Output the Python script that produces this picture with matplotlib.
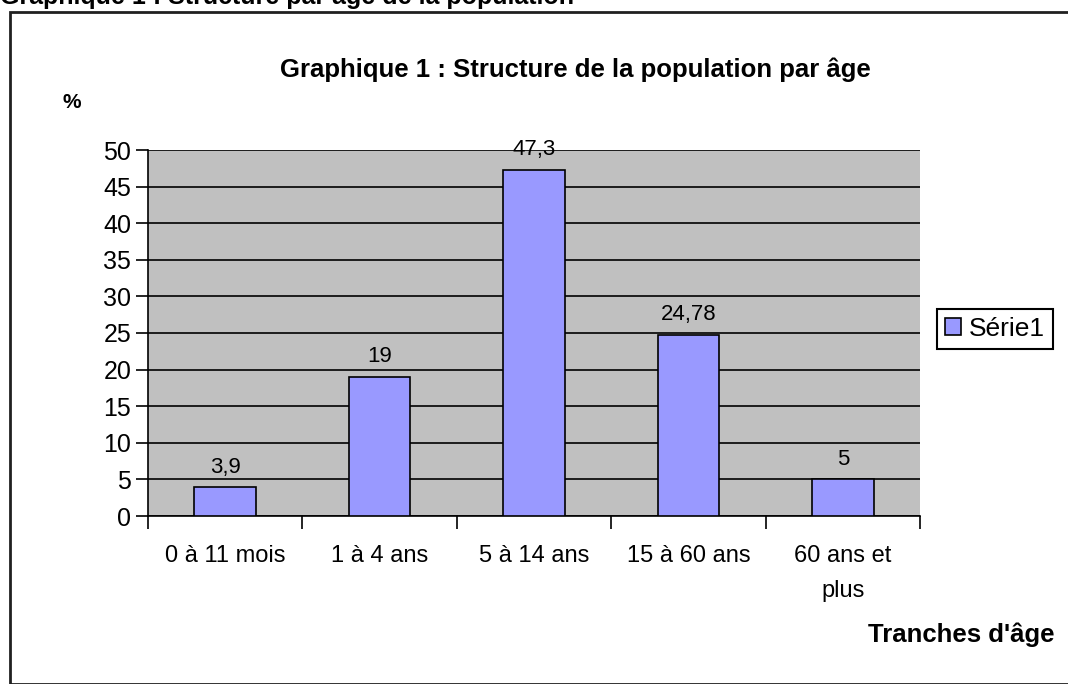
import numpy as np
import matplotlib.pyplot as plt
from matplotlib.patches import Rectangle

# tranches d'age et pourcentages
categories = ['0 à 11 mois', '1 à 4 ans', '5 à 14 ans', '15 à 60 ans', '60 ans et\nplus']
values = [3.9, 19, 47.3, 24.78, 5]
value_labels = ['3,9', '19', '47,3', '24,78', '5']

plt.rcParams['font.family'] = ['Liberation Sans', 'DejaVu Sans']

W, H = 1068, 684
fig = plt.figure(figsize=(W / 100, H / 100), dpi=100)

# cadre autour du graphique
fig.patches.append(Rectangle((10 / W, 0), 1.2, 1 - 12 / H, transform=fig.transFigure,
                             fill=False, edgecolor='#202020', linewidth=2, clip_on=False))
# titre du document, coupe en haut comme sur l'original
fig.text(0, 1 - 4 / H, 'Graphique 1 : Structure par âge de la population',
         fontsize=18, fontweight='bold', va='baseline', ha='left')

ax = fig.add_axes([148 / W, 1 - 516 / H, (920 - 148) / W, (516 - 150) / H])
ax.set_facecolor('#C0C0C0')

x = np.arange(len(categories))
bars = ax.bar(x, values, width=0.4, color='#9999FF', edgecolor='black', linewidth=1.2, zorder=3,
              label='Série1')
for b, lab in zip(bars, value_labels):
    ax.annotate(lab, (b.get_x() + b.get_width() / 2, b.get_height()), xytext=(0, 7),
                textcoords='offset points', ha='center', va='bottom', fontsize=16)

ax.set_xlim(-0.5, len(categories) - 0.5)
ax.set_ylim(0, 50)
ax.set_yticks(np.arange(0, 51, 5))
ax.yaxis.grid(True, color='black', linewidth=1.2, zorder=1)
ax.set_axisbelow(True)

ax.set_xticks(np.arange(-0.5, len(categories), 1))
ax.set_xticklabels([])
ax.set_xticks(x, minor=True)
ax.set_xticklabels(categories, minor=True, fontsize=17, linespacing=1.75, va='top')
ax.tick_params(axis='x', which='minor', length=0, pad=21)
ax.tick_params(axis='x', which='major', length=9, width=1.2, direction='out')
ax.tick_params(axis='y', length=9, width=1.2, labelsize=18, pad=3)

for s in ['top', 'right']:
    ax.spines[s].set_visible(False)
ax.spines['left'].set_linewidth(1.2)
ax.spines['bottom'].set_linewidth(1.2)

fig.text(575 / W, 1 - 70 / H, 'Graphique 1 : Structure de la population par âge',
         fontsize=18.5, fontweight='bold', ha='center', va='center')
fig.text(72 / W, 1 - 103 / H, '%', fontsize=15, fontweight='bold', ha='center', va='center')
fig.text(1055 / W, 1 - 635 / H, "Tranches d'âge", fontsize=18.5, fontweight='bold',
         ha='right', va='center')

leg = fig.legend(handles=[bars], labels=['Série1'], loc='center left',
                 bbox_to_anchor=(937 / W, 1 - 329 / H), fontsize=19, fancybox=False,
                 framealpha=1, edgecolor='black', handlelength=0.6, handleheight=0.6,
                 handletextpad=0.3, borderpad=0.3, borderaxespad=0)
leg.get_frame().set_linewidth(1.5)

fig.savefig('out.png', dpi=100)
